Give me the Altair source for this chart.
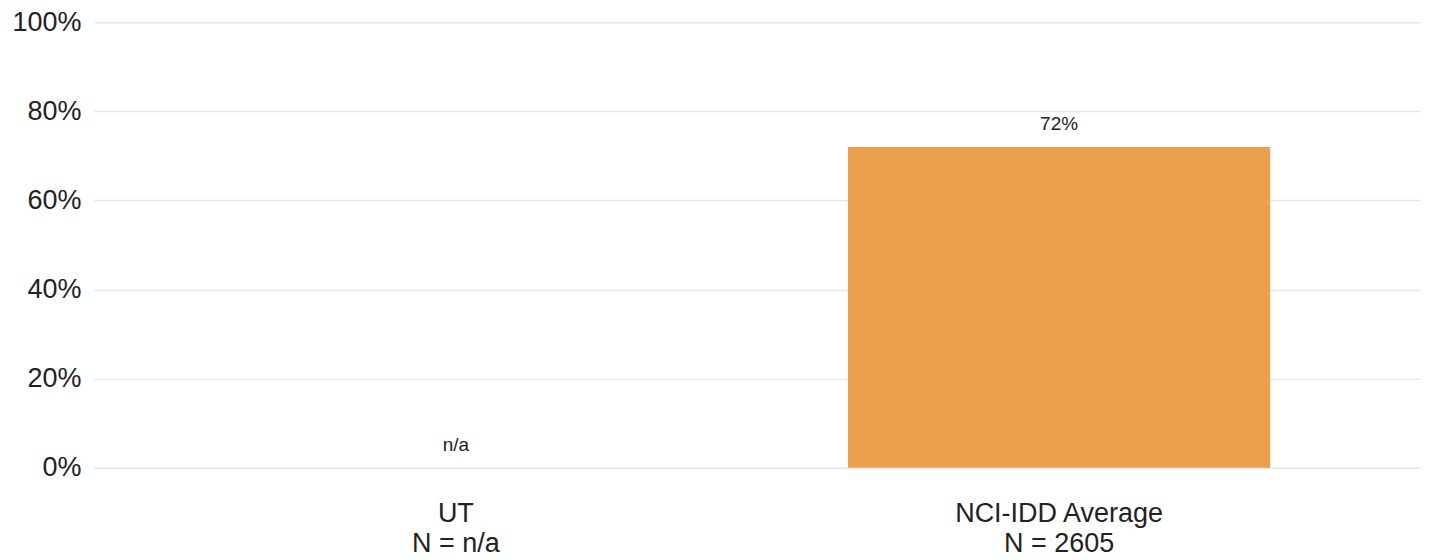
import altair as alt
import pandas as pd

categories = ["UT", "NCI-IDD Average"]
values = [None, 72]
n_labels = ["n/a", "2605"]
value_labels = ["n/a", "72%"]

df = pd.DataFrame({
    "key": [f"{c}|N = {n}" for c, n in zip(categories, n_labels)],
    "value": values,
    "label": value_labels,
})
df["pos"] = df["value"].fillna(0)

order = list(df["key"])
FONT = "Liberation Sans"

x = alt.X("key:N", sort=order, title=None,
          scale=alt.Scale(paddingInner=0.3, paddingOuter=0.25),
          axis=alt.Axis(labelExpr="split(datum.label, '|')", labelAngle=0,
                        labelFontSize=27, labelLineHeight=30, labelPadding=33,
                        labelLimit=0,
                        labelColor="#222", labelFont=FONT, ticks=False,
                        domain=False, grid=False))
y = alt.Y("pos:Q", title=None,
          scale=alt.Scale(domain=[0, 100]),
          axis=alt.Axis(values=[0, 20, 40, 60, 80, 100], labelExpr="datum.value + '%'",
                        labelFontSize=27, labelColor="#222", labelFont=FONT,
                        labelPadding=13, ticks=False, domain=False,
                        gridColor="#e8e8e8", gridWidth=1.5))

base = alt.Chart(df)

bars = base.transform_filter("isValid(datum.value)").mark_bar(color="#EBA04C").encode(
    x=x, y=y
)

box = base.mark_point(
    shape="M-1,-0.4L1,-0.4L1,0.4L-1,0.4Z", filled=True, color="white",
    opacity=1, size=2704, yOffset=-23, strokeWidth=0
).encode(x=x, y=y)

text = base.mark_text(
    fontSize=19, font=FONT, color="#222", baseline="middle", dy=-23
).encode(x=x, y=y, text="label:N")

chart = alt.layer(box, bars, text).properties(
    width=1328, height=446,
    padding={"left": 3, "top": 0, "right": 0, "bottom": 0},
).configure_view(strokeWidth=0)

chart.save("out.html", embed_options={"renderer": "svg", "actions": False})
